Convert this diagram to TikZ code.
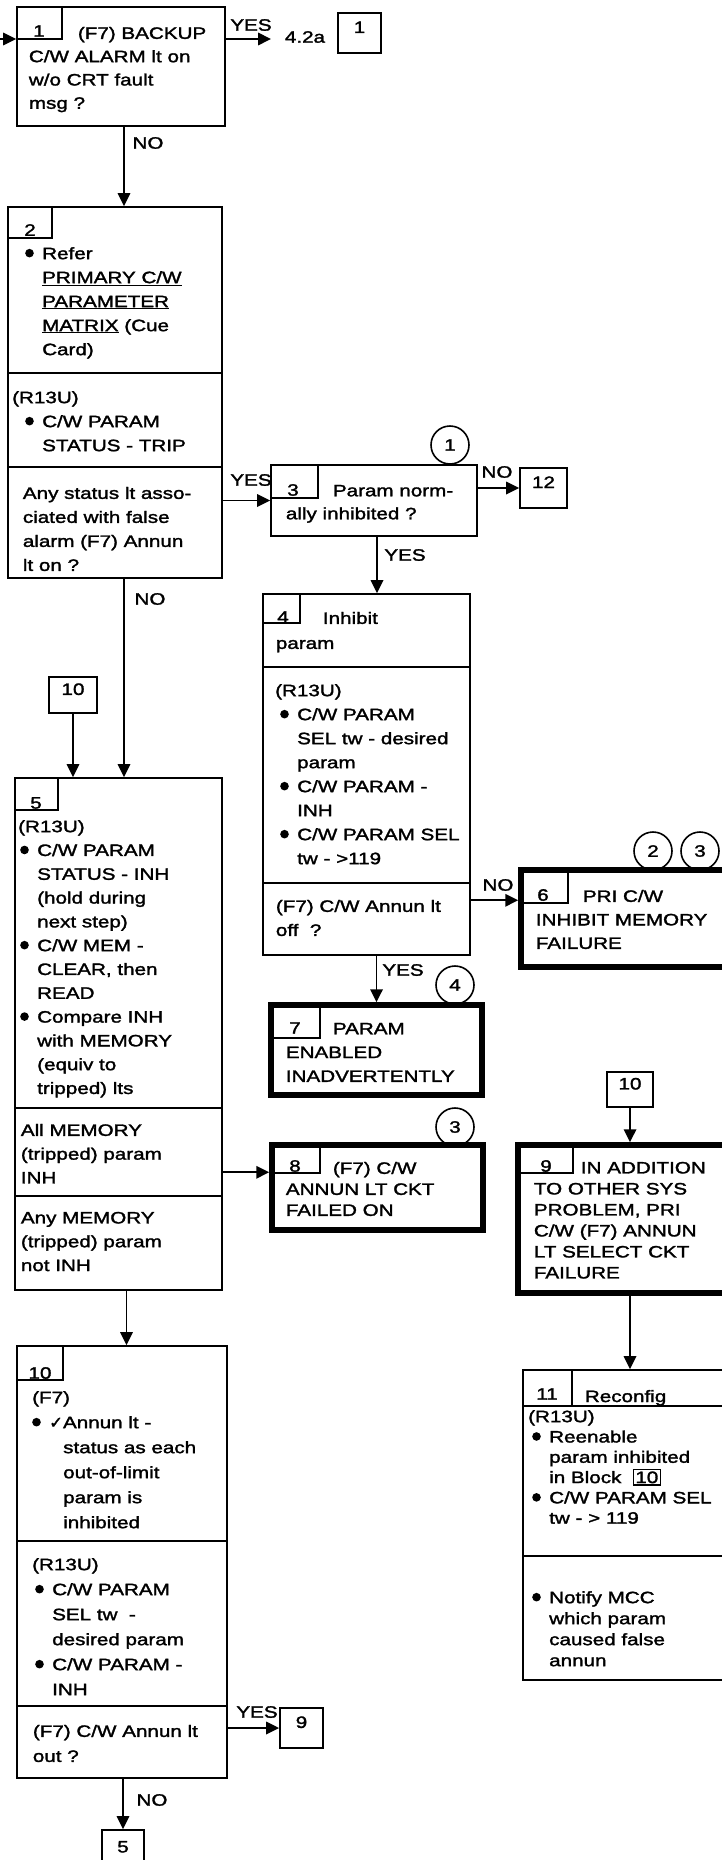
\documentclass[tikz,border=0pt]{standalone}
\usepackage{fontspec}
\setmainfont{Liberation Sans}[FakeStretch=1.25,FakeBold=1.8]
\newfontfamily\symfont{DejaVu Sans}[FakeBold=1.8]
\usetikzlibrary{arrows.meta,fit,calc}
\newcommand{\fsz}[1]{\fontsize{16.5pt}{#1pt}\selectfont}
\newcommand{\bul}{\makebox[17pt][l]{\tikz[baseline=-6pt]\fill (0,0) circle (4.3pt);}}
\newcommand{\inblk}[1]{{\fboxsep=1.2pt\fboxrule=1.3pt\fbox{#1}}}

\begin{document}
\begin{tikzpicture}[x=1pt,y=-1pt,line width=1.8pt,
  blk/.style={draw,line width=1.8pt,inner sep=0pt},
  endblk/.style={draw,line width=5.5pt,inner sep=0pt},
  refbox/.style={draw,line width=1.8pt,inner sep=0pt,font=\fsz{20}},
  txt/.style={anchor=north west,inner sep=0pt,align=left,font=\fsz{23.8}},
  txtt/.style={txt,font=\fsz{21}},
  num/.style={inner sep=0pt,font=\fsz{20}},
  lbl/.style={inner sep=0pt,font=\fsz{20}},
  conn/.style={draw,circle,line width=1.6pt,minimum size=38pt,inner sep=0pt,font=\fsz{20}},
  arr/.style={-{Triangle[length=13pt,width=12.5pt]},line width=1.8pt}]

\useasboundingbox (0,0) rectangle (722,1860);
\clip (0,0) rectangle (722,1860);
\fill[white] (0,0) rectangle (722,1860);

% ------------- block 1 -------------
\coordinate (in1) at (-20,39);
\node[blk,fit={(17,7) (225,126)}] (b1) {};
\draw (62,7) -- (62,39) -- (17,39);
\node[num] at (39,31) {1};
\node[txt,font=\fsz{23.3}] (t1) at (28,26)
  {\hspace*{49pt}(F7) BACKUP\\C/W ALARM lt on\\w/o CRT fault\\msg ?};
\draw[arr] (in1) -- (in1 -| b1.west);
\node[lbl] (go42) at (305,37) {4.2a};
\node[refbox,fit={(338,13) (381,53)}] (r1) {1};
\draw[arr] (in1 -| b1.east) -- ([xshift=-13pt]go42.west |- in1);
\node[lbl] at (251,25) {YES};

% ------------- block 2 -------------
\node[blk,fit={(8,207) (222,578)}] (b2) {};
\draw (52,207) -- (52,238) -- (8,238);
\node[num] at (30,230) {2};
\draw (8,373) -- (222,373);
\draw (8,467) -- (222,467);
\node[txt,font=\fsz{24}] (t2a) at (25,247)
  {\bul Refer\\
   \hspace*{17pt}\underline{PRIMARY C/W}\\
   \hspace*{17pt}\underline{PARAMETER}\\
   \hspace*{17pt}\underline{MATRIX} (Cue\\
   \hspace*{17pt}Card)};
\node[txt,font=\fsz{24}] (t2b) at (12,391)
  {(R13U)\\ \hspace*{13pt}\bul C/W PARAM\\ \hspace*{30pt}STATUS - TRIP};
\node[txt,font=\fsz{24}] (t2c) at (22,486)
  {Any status lt asso-\\ciated with false\\alarm (F7) Annun\\lt on ?};
\draw[arr] ([xshift=3pt]b1.south) -- ([xshift=3pt]b1.south |- b2.north);
\node[lbl] at (148,143) {NO};

% ------------- block 3 -------------
\node[blk,fit={(271,465) (477,536)}] (b3) {};
\draw (318,465) -- (318,498) -- (271,498);
\node[num] at (293,490) {3};
\node[txt,font=\fsz{23}] (t3) at (285,484) {\hspace*{47pt}Param norm-\\ally inhibited ?};
\node[conn] (c1) at (450,445) {1};
\draw[arr] (b2.east |- b3.west) -- (b3.west);
\node[lbl] at (251,480) {YES};
\node[refbox,fit={(520,468) (567,508)}] (r12) {12};
\draw[arr] (b3.east |- r12.west) -- (r12.west);
\node[lbl] at (497,472) {NO};

% ------------- block 4 -------------
\node[blk,fit={(263,594) (470,955)}] (b4) {};
\draw (300,594) -- (300,623) -- (263,623);
\node[num] at (283,617) {4};
\draw (263,667) -- (470,667);
\draw (263,883) -- (470,883);
\node[txt,font=\fsz{25}] (t4a) at (275,611) {\hspace*{47pt}Inhibit\\param};
\node[txt,font=\fsz{24}] (t4b) at (275,684)
  {(R13U)\\
   \hspace*{5pt}\bul C/W PARAM\\
   \hspace*{22pt}SEL tw - desired\\
   \hspace*{22pt}param\\
   \hspace*{5pt}\bul C/W PARAM -\\
   \hspace*{22pt}INH\\
   \hspace*{5pt}\bul C/W PARAM SEL\\
   \hspace*{22pt}tw - >119};
\node[txt,font=\fsz{24}] (t4c) at (275,899) {(F7) C/W Annun lt\\off\ \ ?};
\draw[arr] ([xshift=3pt]b3.south) -- ([xshift=3pt]b3.south |- b4.north);
\node[lbl] at (405,555) {YES};

% ------------- block 6 -------------
\node[endblk,fit={(521,870) (740,967)}] (b6) {};
\draw (568,870) -- (568,903) -- (521,903);
\node[num] at (543,895) {6};
\node[txt,font=\fsz{23.5}] (t6) at (535,889) {\hspace*{47pt}PRI C/W\\INHIBIT MEMORY\\FAILURE};
\node[conn] (c2) at (653,851) {2};
\node[conn] (c3) at (700,851) {3};
\coordinate (e6) at ([yshift=-33pt]b6.north west);
\draw[arr] (b4.east |- e6) -- (e6);
\node[lbl] at (498,885) {NO};

% ------------- block 7 -------------
\node[endblk,fit={(271,1005) (482,1095)}] (b7) {};
\draw (320,1005) -- (320,1038) -- (271,1038);
\node[num] at (295,1028) {7};
\node[txt] (t7) at (285,1022) {\hspace*{47pt}PARAM\\ENABLED\\INADVERTENTLY};
\node[conn] (c4) at (455,985) {4};
\draw[arr] (b4.south -| b7.north) -- (b7.north);
\node[lbl] at (403,970) {YES};

% ------------- block 8 -------------
\node[endblk,fit={(272,1145) (483,1230)}] (b8) {};
\draw (320,1145) -- (320,1173) -- (272,1173);
\node[num] at (295,1166) {8};
\node[txtt] (t8) at (285,1161) {\hspace*{47pt}(F7) C/W\\ANNUN LT CKT\\FAILED ON};
\node[conn] (c5) at (455,1127) {3};
\coordinate (e8) at ([yshift=-30pt]b8.north west);

% ------------- block 9 -------------
\node[refbox,fit={(607,1072) (653,1107)}] (r10b) {10};
\node[endblk,fit={(518,1145) (740,1293)}] (b9) {};
\draw (573,1145) -- (573,1173) -- (518,1173);
\node[num] at (546,1166) {9};
\node[txtt] (t9) at (533,1161)
  {\hspace*{47pt}IN ADDITION\\TO OTHER SYS\\PROBLEM, PRI\\C/W (F7) ANNUN\\LT SELECT CKT\\FAILURE};
\draw[arr] (r10b.south) -- (r10b.south |- b9.north);

% ------------- block 11 -------------
\node[blk,fit={(523,1370) (740,1680)}] (b11) {};
\draw (572,1370) -- (572,1406);
\draw (523,1406) -- (740,1406);
\node[num] at (547,1394) {11};
\node[lbl,anchor=base west] (t11h) at (584,1402) {Reconfig};
\draw (523,1556) -- (740,1556);
\node[txt,font=\fsz{20.3}] (t11a) at (528,1410)
  {(R13U)\\
   \hspace*{4pt}\bul Reenable\\
   \hspace*{21pt}param inhibited\\
   \hspace*{21pt}in Block\ \ \inblk{10}\\
   \hspace*{4pt}\bul C/W PARAM SEL\\
   \hspace*{21pt}tw - > 119};
\node[txtt] (t11b) at (532,1591)
  {\bul Notify MCC\\ \hspace*{17pt}which param\\ \hspace*{17pt}caused false\\ \hspace*{17pt}annun};
\draw[arr] (r10b.south |- b9.south) -- (r10b.south |- b11.north);

% ------------- block 5 -------------
\node[refbox,fit={(49,677) (97,713)}] (r10a) {10};
\node[blk,fit={(15,778) (222,1290)}] (b5) {};
\draw (58,778) -- (58,810) -- (15,810);
\node[num] at (36,803) {5};
\draw (15,1108) -- (222,1108);
\draw (15,1196) -- (222,1196);
\node[txt] (t5a) at (18,820)
  {(R13U)\\
   \hspace*{2pt}\bul C/W PARAM\\
   \hspace*{19pt}STATUS - INH\\
   \hspace*{19pt}(hold during\\
   \hspace*{19pt}next step)\\
   \hspace*{2pt}\bul C/W MEM -\\
   \hspace*{19pt}CLEAR, then\\
   \hspace*{19pt}READ\\
   \hspace*{2pt}\bul Compare INH\\
   \hspace*{19pt}with MEMORY\\
   \hspace*{19pt}(equiv to\\
   \hspace*{19pt}tripped) lts};
\node[txt] (t5b) at (20,1123) {All MEMORY\\(tripped) param\\INH};
\node[txt] (t5c) at (20,1211) {Any MEMORY\\(tripped) param\\not INH};
\draw[arr] (r10a.south) -- (r10a.south |- b5.north);
\draw[arr] ([xshift=9pt]b2.south) -- ([xshift=9pt]b2.south |- b5.north);
\node[lbl] at (150,599) {NO};
\draw[arr] (b5.east |- e8) -- (e8);

% ------------- block 10 -------------
\node[blk,fit={(17,1346) (227,1778)}] (b10) {};
\draw (63,1346) -- (63,1380) -- (17,1380);
\node[num] at (40,1373) {10};
\draw (17,1541) -- (227,1541);
\draw (17,1706) -- (227,1706);
\node[txt,font=\fsz{25}] (t10a) at (32,1391)
  {(F7)\\
   \bul{\symfont ✓}Annun lt -\\
   \hspace*{31pt}status as each\\
   \hspace*{31pt}out-of-limit\\
   \hspace*{31pt}param is\\
   \hspace*{31pt}inhibited};
\node[txt,font=\fsz{25}] (t10b) at (32,1558)
  {(R13U)\\
   \hspace*{3pt}\bul C/W PARAM\\
   \hspace*{20pt}SEL tw\ \ -\\
   \hspace*{20pt}desired param\\
   \hspace*{3pt}\bul C/W PARAM -\\
   \hspace*{20pt}INH};
\node[txt,font=\fsz{25}] (t10c) at (32,1724) {(F7) C/W Annun lt\\out ?};
\draw[arr] ([xshift=8pt]b5.south) -- ([xshift=8pt]b5.south |- b10.north);
\node[refbox,fit={(280,1708) (323,1748)}] (r9) {9};
\draw[arr] (b10.east |- r9.west) -- (r9.west);
\node[lbl] at (257,1712) {YES};
\node[refbox,fit={(102,1830) (144,1875)}] (r5) {5};
\draw[arr] (b10.south -| r5.north) -- (r5.north);
\node[lbl] at (152,1800) {NO};

\end{tikzpicture}
\end{document}
